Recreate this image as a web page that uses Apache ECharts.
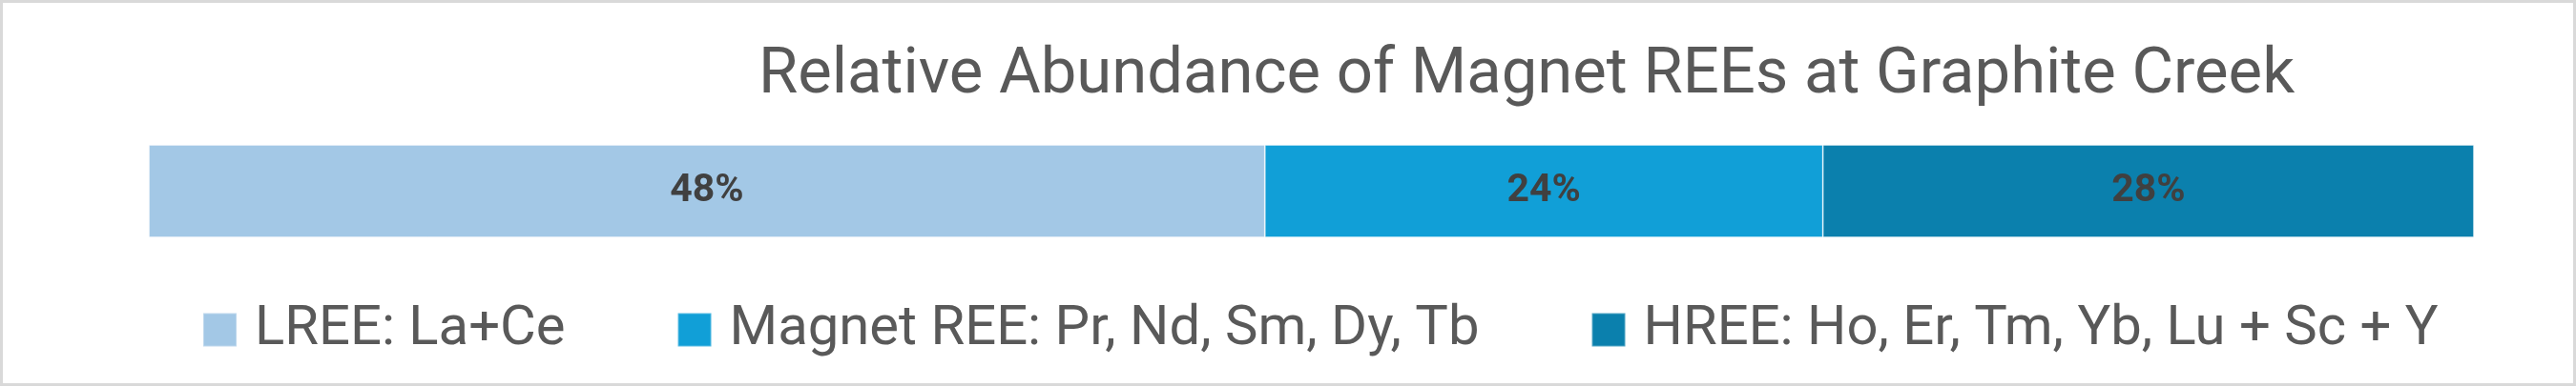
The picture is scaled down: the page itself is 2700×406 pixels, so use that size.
<!DOCTYPE html>
<html>
<head>
<meta charset="utf-8">
<script src="https://cdn.jsdelivr.net/npm/echarts@6/dist/echarts.min.js"></script>
<style>
html,body{margin:0;padding:0;background:#fff;}
#chart{width:2700px;height:406px;}
</style>
</head>
<body>
<div id="chart"></div>
<script>
const categories = ['Graphite Creek'];
const seriesNames = ['LREE: La+Ce', 'Magnet REE: Pr, Nd, Sm, Dy, Tb', 'HREE: Ho, Er, Tm, Yb, Lu + Sc + Y'];
const lreeValues = [0.48];
const magnetValues = [0.24];
const hreeValues = [0.28];
const colors = ['#A3C8E6', '#119FD7', '#0B80AD'];
const titleText = 'Relative Abundance of Magnet REEs at Graphite Creek';

const FONT = "'Roboto', sans-serif";
const chart = echarts.init(document.getElementById('chart'), null, {renderer: 'canvas'});
const dataSets = [lreeValues, magnetValues, hreeValues];
chart.setOption({
  backgroundColor: '#ffffff',
  animation: false,
  title: {
    text: titleText,
    left: 790,
    top: 42,
    textStyle: {fontFamily: FONT, fontSize: 67, fontWeight: 'normal', color: '#595959'}
  },
  legend: {
    left: 207,
    top: 312,
    itemWidth: 35,
    itemHeight: 35,
    itemGap: 117,
    icon: 'rect',
    textStyle: {fontFamily: FONT, fontSize: 58, color: '#595959', padding: [0, 0, 0, 14]},
    data: seriesNames
  },
  grid: {left: 156, right: 107, top: 152, height: 97, containLabel: false},
  xAxis: {type: 'value', min: 0, max: 1, show: false},
  yAxis: {type: 'category', data: categories, show: false},
  graphic: [{
    type: 'rect', silent: true,
    shape: {x: 1.5, y: 1.5, width: 2697, height: 402},
    style: {fill: 'none', stroke: '#D9D9D9', lineWidth: 3}
  }],
  series: seriesNames.map((name, i) => ({
    name: name,
    type: 'bar',
    stack: 'total',
    barWidth: '100%',
    data: dataSets[i],
    itemStyle: {color: colors[i], borderColor: 'rgba(255,255,255,0.3)', borderWidth: 1},
    label: {
      show: true,
      position: 'inside',
      formatter: p => Math.round(p.value * 100) + '%',
      fontFamily: FONT,
      fontSize: 41,
      fontWeight: 'bold',
      color: '#404040'
    }
  }))
});
</script>
</body>
</html>
